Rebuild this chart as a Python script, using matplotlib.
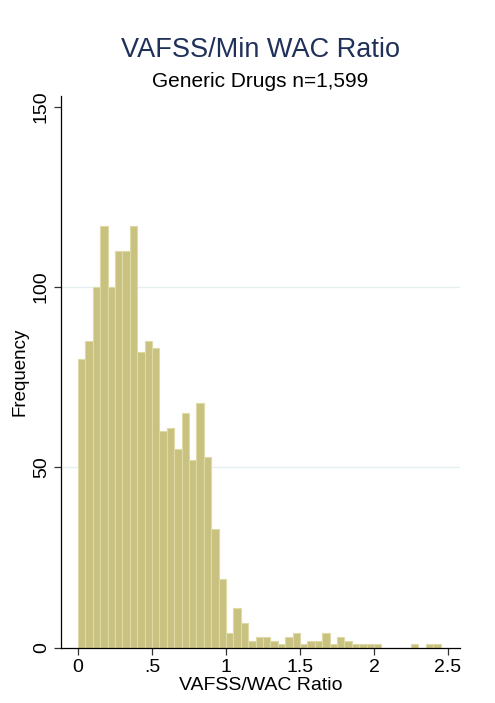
import numpy as np
import matplotlib
matplotlib.use("Agg")
import matplotlib.pyplot as plt

plt.rcParams['font.family'] = ['Liberation Sans', 'DejaVu Sans']

# ============ data: histogram bins (width 0.05) ============
bin_width = 0.05
counts = [80, 85, 100, 117, 100, 110, 110, 117, 82, 85,
          83, 60, 61, 55, 65, 52, 68, 53, 33, 19,
          4, 11, 7, 2, 3, 3, 2, 1, 3, 4,
          1, 2, 2, 4, 1, 3, 2, 1, 1, 1,
          1, 0, 0, 0, 0, 1, 0, 1, 1]
bin_left = np.arange(len(counts)) * bin_width

xticks = [0, 0.5, 1, 1.5, 2, 2.5]
xtick_labels = ["0", ".5", "1", "1.5", "2", "2.5"]
yticks = [0, 50, 100, 150]

# ============ figure ============
fig = plt.figure(figsize=(4.95, 7.03), dpi=100)
ax = fig.add_axes([0.123, 0.0785, 0.806, 0.785])

ax.bar(bin_left, counts, width=bin_width, align="edge",
       color="#c9c17f", edgecolor="#dedaa6", linewidth=0.8, zorder=2)

for y in [50, 100]:
    ax.axhline(y, color="#e6eff0", linewidth=1.0, zorder=1)

ax.set_xlim(-0.115, 2.58)
ax.set_ylim(0, 153)

ax.set_xticks(xticks)
ax.set_xticklabels(xtick_labels)
ax.set_yticks(yticks)
ax.set_yticklabels([str(v) for v in yticks], rotation=90, va="center")

ax.tick_params(axis="both", labelsize=14, length=5, width=0.9, color="#333333", pad=3)
ax.tick_params(axis="y", pad=3)

for side in ["top", "right"]:
    ax.spines[side].set_visible(False)
for side in ["left", "bottom"]:
    ax.spines[side].set_linewidth(0.9)

ax.set_xlabel("VAFSS/WAC Ratio", fontsize=14, labelpad=1)
ax.set_ylabel("Frequency", fontsize=13.5, labelpad=3)

# title + subtitle centered over the plot area
cx = 0.123 + 0.806 / 2
fig.text(cx, 1 - 57 / 703, "VAFSS/Min WAC Ratio", ha="center", va="baseline",
         fontsize=19.5, color="#1f3059")
fig.text(cx, 1 - 87 / 703, "Generic Drugs n=1,599", ha="center", va="baseline",
         fontsize=15, color="black")

fig.savefig("out.png", dpi=100)
